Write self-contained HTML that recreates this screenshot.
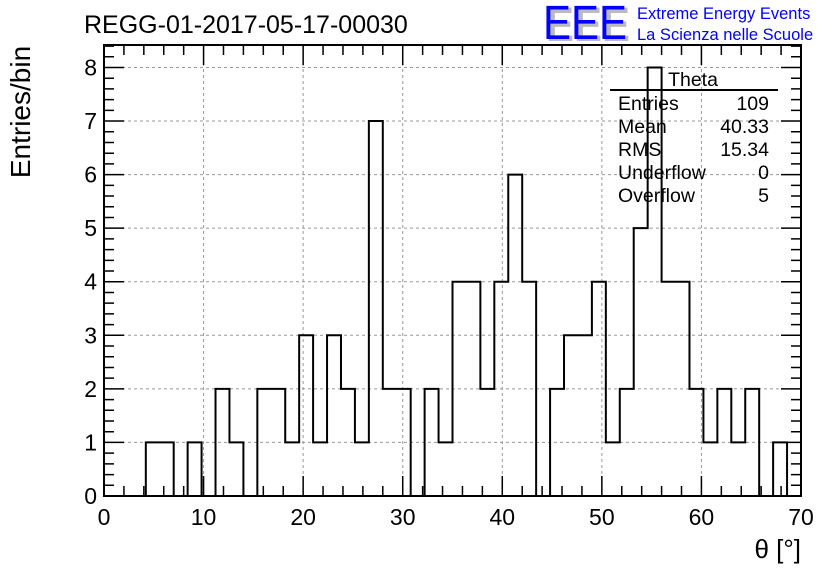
<!DOCTYPE html>
<html><head><meta charset="utf-8"><style>
body{margin:0;background:#fff}
svg{display:block;font-family:"Liberation Sans",sans-serif}
</style></head><body>
<svg id="c" width="836" height="572" viewBox="0 0 836 572">
<text x="84" y="33" font-size="25">REGG-01-2017-05-17-00030</text>
<g>
<text x="546" y="41" font-size="48" fill="#bbb" font-weight="bold" textLength="84" lengthAdjust="spacingAndGlyphs">EEE</text>
<text x="543" y="39" font-size="48" fill="#00f" textLength="84" lengthAdjust="spacingAndGlyphs">EEE</text>
<text x="637" y="19" font-size="16.5" fill="#00f">Extreme Energy Events</text>
<text x="637" y="40" font-size="16.5" fill="#00f">La Scienza nelle Scuole</text>
</g>
<text transform="translate(30,112) rotate(-90)" text-anchor="middle" font-size="28">Entries/bin</text>
<text x="801" y="558" text-anchor="end" font-size="26">θ [°]</text>
<g id="grid"></g><g id="ticks"></g><path id="hist" fill="none" stroke="#000" stroke-width="2"/>
<rect x="104" y="45" width="697" height="451" fill="none" stroke="#000" stroke-width="2"/>
<g font-size="19.5">
<text x="693" y="86" text-anchor="middle">Theta</text>
<line x1="610" y1="90" x2="778" y2="90" stroke="#000" stroke-width="2"/>
<text x="618" y="110">Entries</text><text x="769" y="110" text-anchor="end">109</text>
<text x="618" y="133">Mean</text><text x="769" y="133" text-anchor="end">40.33</text>
<text x="618" y="156">RMS</text><text x="769" y="156" text-anchor="end">15.34</text>
<text x="618" y="179">Underflow</text><text x="769" y="179" text-anchor="end">0</text>
<text x="618" y="202">Overflow</text><text x="769" y="202" text-anchor="end">5</text>
</g>
</svg>
<script>
const binCounts=[0,0,0,1,1,0,1,0,2,1,0,2,2,1,3,1,3,2,1,7,2,2,0,2,1,4,4,2,4,6,4,0,2,3,3,4,1,2,5,8,4,4,2,1,2,1,2,0,1,0];
const xTickLabels=[0,10,20,30,40,50,60,70];
const yTickLabels=[0,1,2,3,4,5,6,7,8];
const xMin=0,xMax=70,yMin=0,yMax=8.42;
const L=104,R=801,T=45,B=496;
const sx=v=>L+(v-xMin)/(xMax-xMin)*(R-L);
const sy=v=>B-(v-yMin)/(yMax-yMin)*(B-T);
const NS="http://www.w3.org/2000/svg";
const svg=document.getElementById('c');
function mk(t,a,p){const e=document.createElementNS(NS,t);for(const k in a)e.setAttribute(k,a[k]);p.appendChild(e);return e;}
const grid=document.getElementById('grid'),ticks=document.getElementById('ticks');
xTickLabels.forEach(v=>{
 if(v>xMin&&v<xMax){const g=mk('line',{x1:sx(v),x2:sx(v),y1:T,y2:B,stroke:'#999','stroke-dasharray':'3,3'},grid);
 
 }
 const t=mk('text',{x:sx(v),y:525,'text-anchor':'middle','font-size':'23'},svg);t.textContent=v;
 
 
});
yTickLabels.forEach(v=>{
 if(v>yMin){const g=mk('line',{x1:L,x2:R,y1:sy(v),y2:sy(v),stroke:'#999','stroke-dasharray':'3,3'},grid);
 
 }
 const t=mk('text',{x:97,y:sy(v)+8,'text-anchor':'end','font-size':'23'},svg);t.textContent=v;
 
 
});
let d='';
for(let v=xMin;v<=xMax+1e-9;v+=2){const len=(Math.round(v)%10===0)?20:10;
 d+=`M${sx(v)},${B}v${-len}M${sx(v)},${T}v${len}`;}
for(let v=yMin;v<=yMax+1e-9;v+=0.2){const len=(Math.abs(v-Math.round(v))<1e-6)?20:10;
 d+=`M${L},${sy(v)}h${len}M${R},${sy(v)}h${-len}`;}
const tk=mk('path',{d:d,stroke:'#000','stroke-width':'1.5',fill:'none'},ticks);


const w=(xMax-xMin)/binCounts.length;
let h=`M${sx(xMin)},${sy(0)}`;
binCounts.forEach((c,i)=>{h+=`L${sx(xMin+i*w)},${sy(c)}L${sx(xMin+(i+1)*w)},${sy(c)}`;});
h+=`L${sx(xMax)},${sy(0)}`;
document.getElementById('hist').setAttribute('d',h);
</script>
</body></html>
